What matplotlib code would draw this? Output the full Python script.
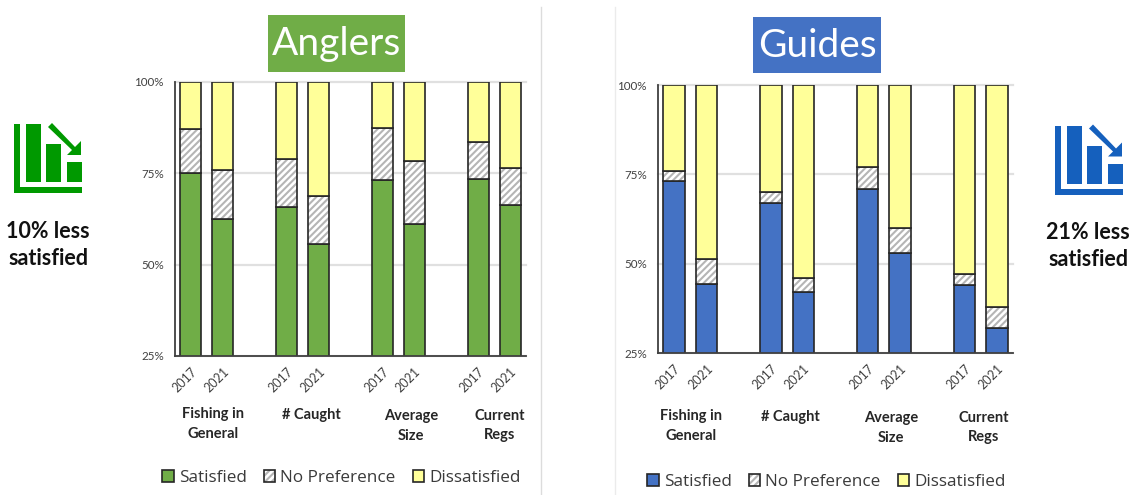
import matplotlib
matplotlib.use('Agg')
import matplotlib.pyplot as plt
from matplotlib.patches import Rectangle, Polygon, Patch
from matplotlib.legend_handler import HandlerTuple

plt.rcParams['font.family'] = ['Lato', 'DejaVu Sans']
plt.rcParams['hatch.linewidth'] = 1.5

W, H = 1130, 495

# category slots, with a blank slot between the groups
positions = [0, 1, 3, 4, 6, 7, 9, 10]
years = ['2017', '2021'] * 4

# anglers
anglers_satisfied = [75, 62.5, 65.7, 55.6, 73.2, 61.2, 73.4, 66.3]
anglers_no_pref = [12, 13.3, 13.1, 13.1, 14.3, 17.3, 10.2, 10.2]
anglers_dissatisfied = [13, 24.2, 21.2, 31.3, 12.5, 21.5, 16.4, 23.5]

# guides
guides_satisfied = [73, 44.4, 67, 42, 71, 53, 44, 32]
guides_no_pref = [3, 7, 3, 4, 6, 7, 3, 6]
guides_dissatisfied = [24, 48.6, 30, 54, 23, 40, 53, 62]

yticks = [25, 50, 75, 100]
ytick_labels = ['25%', '50%', '75%', '100%']
legend_labels = ['Satisfied', 'No Preference', 'Dissatisfied']
group_labels = ['Fishing in\nGeneral', '# Caught', 'Average\nSize', 'Current\nRegs']

GREEN = '#70AD47'
BLUE = '#4472C4'
YELLOW = '#FFFF99'
EDGE = '#262626'
HATCH = '#B5B5B5'

fig = plt.figure(figsize=(W / 100, H / 100), dpi=100)
fig.patch.set_facecolor('white')


# helper: pixel box (top-left origin) to figure fractions
def px_axes(left, top, right, bottom):
    return fig.add_axes([left / W, 1 - bottom / H, (right - left) / W, (bottom - top) / H])


# overlay in pixel coords for the non-data decoration
overlay = fig.add_axes([0, 0, 1, 1], zorder=5)
overlay.set_xlim(0, W)
overlay.set_ylim(H, 0)
overlay.axis('off')
overlay.patch.set_alpha(0)


def draw_chart(box, sat, nop, dis, color, legend_pos):
    ax = px_axes(*box)
    ax.set_xlim(-0.5, 10.5)
    ax.set_ylim(25, 100)
    ax.set_axisbelow(True)
    ax.yaxis.grid(True, color='#E0E0E0', linewidth=1.6, clip_on=False)
    ax.set_yticks(yticks)
    ax.set_yticklabels(ytick_labels, fontsize=8.4, color='#404040')
    ax.set_xticks(positions)
    ax.set_xticklabels(years, fontsize=9, color='#404040', rotation=45, ha='right',
                       rotation_mode='anchor')
    ax.tick_params(length=0)
    ax.tick_params(axis='y', pad=8)
    ax.tick_params(axis='x', pad=7)
    for s in ['top', 'right']:
        ax.spines[s].set_visible(False)
    for s in ['left', 'bottom']:
        ax.spines[s].set_color('#404040')
        ax.spines[s].set_linewidth(1.3)

    width = 0.66
    tops = [a + b for a, b in zip(sat, nop)]
    ax.bar(positions, sat, width, color=color, edgecolor=EDGE, linewidth=1.2)
    # hatch first in grey, then the dark outline on top
    ax.bar(positions, nop, width, bottom=sat, color='white', edgecolor=HATCH,
           hatch='/////', linewidth=0)
    ax.bar(positions, nop, width, bottom=sat, fill=False, edgecolor=EDGE, linewidth=1.2)
    ax.bar(positions, dis, width, bottom=tops, color=YELLOW, edgecolor=EDGE, linewidth=1.2)

    handles = [
        Patch(facecolor=color, edgecolor=EDGE, linewidth=1.2),
        (Patch(facecolor='white', edgecolor=HATCH, hatch='/////', linewidth=0),
         Patch(fill=False, edgecolor=EDGE, linewidth=1.2)),
        Patch(facecolor=YELLOW, edgecolor=EDGE, linewidth=1.2),
    ]
    fig.legend(handles, legend_labels, loc='center',
               bbox_to_anchor=(legend_pos[0] / W, 1 - legend_pos[1] / H), ncol=3, frameon=False,
               prop={'family': 'Open Sans', 'size': 12.3}, handlelength=0.68, handleheight=0.68,
               handletextpad=0.3, columnspacing=1.0, labelcolor='#3A3A3A',
               handler_map={tuple: HandlerTuple(ndivide=1, pad=0)})
    return ax


def draw_icon(dx, dy, color):
    boxes = [(13.7, 124, 20, 193), (13.7, 187, 81.7, 193), (25.7, 124, 40.7, 182),
             (46.3, 144, 61, 182), (66.7, 162, 81.7, 182)]
    for x0, y0, x1, y1 in boxes:
        overlay.add_patch(Rectangle((x0 + dx, y0 + dy), x1 - x0, y1 - y0, color=color, lw=0))
    arrow = [(48, 127), (52, 123), (75, 147), (81, 141), (81, 155), (67, 155), (72, 150)]
    overlay.add_patch(Polygon([(x + dx, y + dy) for x, y in arrow], color=color, lw=0))


draw_chart((175, 82, 526, 356), anglers_satisfied, anglers_no_pref, anglers_dissatisfied,
           GREEN, (341.5, 478))
draw_chart((658, 85, 1013, 353), guides_satisfied, guides_no_pref, guides_dissatisfied,
           BLUE, (826.5, 482))

# title boxes
overlay.add_patch(Rectangle((268, 15), 137, 57, color=GREEN, lw=0))
overlay.text(336.5, 44, 'Anglers', color='white', fontsize=28, ha='center', va='center')
overlay.add_patch(Rectangle((753, 17), 128, 56, color=BLUE, lw=0))
overlay.text(817, 46, 'Guides', color='white', fontsize=28, ha='center', va='center')

# panel dividers
overlay.plot([540.5, 540.5], [7, 495], color='#DCDCDC', lw=1)
overlay.plot([615, 615], [7, 495], color='#EBEBEB', lw=1)

# group labels under the years
left_label_pos = [(213.5, 413), (311, 414), (411, 415), (500, 415)]
right_label_pos = [(691.5, 415), (790, 416), (891, 417), (984, 417)]
for text, (x, y) in zip(group_labels, left_label_pos):
    overlay.text(x, y - 6, text, fontsize=10.5, fontweight='bold', color='#262626',
                 ha='center', va='top', linespacing=1.5)
for text, (x, y) in zip(group_labels, right_label_pos):
    overlay.text(x, y - 6, text, fontsize=10.5, fontweight='bold', color='#262626',
                 ha='center', va='top', linespacing=1.5)

# side callouts
draw_icon(0, 0, '#009900')
draw_icon(1041, 1.5, '#1560BD')
overlay.text(48, 245, '10% less\nsatisfied', fontsize=15.5, fontweight='bold', color='#111111',
             ha='center', va='center', linespacing=1.35)
overlay.text(1088, 246, '21% less\nsatisfied', fontsize=15.5, fontweight='bold', color='#111111',
             ha='center', va='center', linespacing=1.35)

fig.savefig('out.png', dpi=100)
